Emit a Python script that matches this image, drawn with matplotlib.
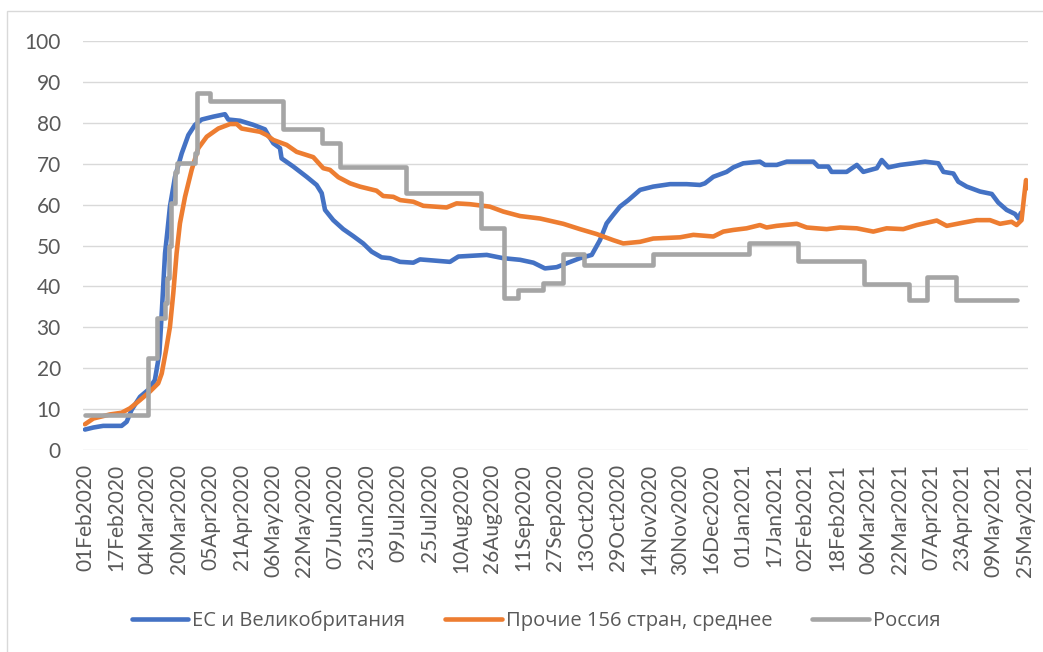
import matplotlib
matplotlib.use("Agg")
import matplotlib.pyplot as plt
from matplotlib.patches import Rectangle

# ---- data (x = day index from 01Feb2020) ----
tick_labels = ["01Feb2020", "17Feb2020", "04Mar2020", "20Mar2020", "05Apr2020", "21Apr2020",
               "06May2020", "22May2020", "07Jun2020", "23Jun2020", "09Jul2020", "25Jul2020",
               "10Aug2020", "26Aug2020", "11Sep2020", "27Sep2020", "13Oct2020", "29Oct2020",
               "14Nov2020", "30Nov2020", "16Dec2020", "01Jan2021", "17Jan2021", "02Feb2021",
               "18Feb2021", "06Mar2021", "22Mar2021", "07Apr2021", "23Apr2021", "09May2021",
               "25May2021"]
tick_step = 16

eu_day = [0, 4.3, 9.3, 18.7, 21.3, 23.8, 28.1, 32.3, 35.7, 38, 39.2, 40.9, 42, 43.4, 46, 49.4,
          52.8, 56.2, 59.6, 65.5, 71.5, 73.2, 79.2, 86, 91.9, 93.6, 96.2, 99.6, 100.4, 106.4,
          113.2, 118.3, 120.9, 122.6, 126.8, 131.9, 137, 142.1, 146.4, 151.5, 155.8, 160.9,
          167.7, 171.1, 186.4, 190.7, 205.2, 213.6, 222.2, 229, 234.9, 240.9, 246.8, 252.8,
          258.8, 263, 266.4, 269.8, 273.2, 277.5, 283.5, 290.2, 298.8, 307.3, 314.1, 316.6,
          320.9, 327.7, 331.1, 336.2, 344.7, 347.3, 353.3, 358.4, 365.2, 372, 374.5, 379.6,
          381.3, 389, 394.2, 397.5, 404.4, 406.9, 410.3, 416.3, 423, 429, 435.8, 438.4, 443.5,
          446, 450.3, 457.1, 463.1, 466.4, 470.7, 475, 476.7, 478]
eu_val = [5.0, 5.5, 5.9, 5.9, 6.9, 9.8, 13, 14.7, 17.1, 23.6, 33.4, 48.1, 53, 59.5, 66.8, 72.5,
          77, 79.5, 80.8, 81.5, 82.1, 80.8, 80.5, 79.5, 78.4, 77, 75, 73.8, 71.3, 69.3,
          66.8, 64.8, 62.8, 58.7, 56.2, 54, 52.3, 50.5, 48.5, 47.1, 46.9, 46,
          45.8, 46.6, 46, 47.3, 47.7, 46.9, 46.5, 45.8, 44.4, 44.7, 45.8, 46.9,
          47.7, 51.3, 55.4, 57.5, 59.5, 61.1, 63.6, 64.4, 65, 65, 64.8, 65.2,
          66.8, 68, 69.1, 70.1, 70.5, 69.7, 69.7, 70.5, 70.5, 70.5, 69.3, 69.3,
          68, 68, 69.7, 68, 68.9, 70.9, 69.1, 69.7, 70.1, 70.5, 70.1, 68, 67.6,
          65.6, 64.4, 63.2, 62.6, 60.5, 58.7, 57.7, 56.6, 58.0]

oth_day = [0, 4.3, 12.8, 18.7, 23, 28.1, 33.2, 37.4, 39.2, 41.4, 43.4, 45.1, 46.8, 48.5, 51.1,
           54.5, 57.9, 62.2, 68.1, 74.1, 77.5, 80, 89.4, 92.8, 96.2, 103, 108.1, 116.6, 121.7,
           125.1, 129.4, 135.4, 140.4, 148.9, 152.3, 157.5, 161, 167.7, 172.8, 184.7, 189.8,
           196.6, 206.8, 213.6, 222.2, 232.4, 244.3, 252.8, 261.3, 269.8, 274.9, 283.5, 290.2,
           303.9, 310.7, 320.9, 326, 331.1, 337.9, 344.7, 348.1, 353.2, 363.5, 368.6, 378.8,
           385.6, 394.2, 402.6, 409.4, 417.9, 424.8, 435, 440.1, 448.6, 455.4, 462.2, 467.3,
           473.2, 475.8, 478.3, 479.6, 480.6, 481.6]
oth_val = [6.3, 7.7, 8.7, 9.1, 10.2, 12.2, 14.3, 16.3, 18.7, 24.4, 30.1, 38.3, 48.1, 55.4, 61.9,
           68.5, 73.8, 76.6, 78.6, 79.7, 79.7, 78.6, 77.8, 77, 75.8, 74.6, 72.9, 71.6, 68.9,
           68.5, 66.7, 65.2, 64.4, 63.4, 62.1, 61.9, 61.1, 60.7, 59.7, 59.3, 60.3,
           60.1, 59.5, 58.3, 57.2, 56.6, 55.3, 54, 52.8, 51.3, 50.5, 50.9, 51.7,
           52, 52.6, 52.2, 53.4, 53.8, 54.2, 55, 54.4, 54.8, 55.3, 54.4, 54,
           54.4, 54.2, 53.4, 54.2, 54, 55, 56.1, 54.8, 55.6, 56.2, 56.2, 55.3,
           55.8, 55, 56.2, 61.9, 66, 64]

ru_day = [0, 32, 37, 41, 42, 43, 44, 46, 47, 56, 57, 64, 101, 121, 130, 164, 202, 214, 221,
          234, 244, 255, 290, 339, 364, 398, 421, 430, 445, 476]
ru_val = [8.5, 22.4, 32.2, 36, 42, 50, 60.3, 68, 70.2, 72.5, 87.4, 85.4, 78.6, 75, 69.3, 62.9,
          54.4, 37.1, 39.1, 40.9, 47.9, 45.2, 47.9, 50.7, 46.2, 40.6, 36.7, 42.4, 36.7, 36.7]

series_names = ["ЕС и Великобритания", "Прочие 156 стран, среднее", "Россия"]
colors = ["#4472C4", "#ED7D31", "#A5A5A5"]

tick_font = "Lato"
text_font = ["Open Sans", "DejaVu Sans"]
label_color = "#595959"

fig = plt.figure(figsize=(10.43, 6.52), dpi=100)
fig.patches.append(Rectangle((7 / 1043, -0.05), 1.2, (652 - 11) / 652 + 0.05,
                             transform=fig.transFigure, fill=False,
                             edgecolor="#D9D9D9", linewidth=1.0))
ax = fig.add_axes([83 / 1043, 202 / 652, 945 / 1043, 409 / 652])

lw = 3.3
ax.plot(eu_day, eu_val, color=colors[0], lw=lw, label=series_names[0], solid_capstyle="round")
ax.plot(oth_day, oth_val, color=colors[1], lw=lw, label=series_names[1], solid_capstyle="round")
ax.plot(ru_day, ru_val, color=colors[2], lw=lw, label=series_names[2], drawstyle="steps-post",
        solid_capstyle="round")

ax.set_ylim(0, 100)
ax.set_xlim(-1, 481.6)
ax.set_yticks(range(0, 101, 10))
ax.set_xticks([i * tick_step for i in range(len(tick_labels))])
ax.set_xticklabels(tick_labels, rotation=90, fontsize=15, family=tick_font, color=label_color)
for t in ax.get_yticklabels():
    t.set_fontsize(15)
    t.set_family(tick_font)
    t.set_color(label_color)
ax.tick_params(axis="both", length=0)
ax.tick_params(axis="y", pad=16)
ax.tick_params(axis="x", pad=10)
ax.grid(axis="y", color="#D9D9D9", lw=1.0)
ax.set_axisbelow(True)
for s in ax.spines.values():
    s.set_visible(False)

leg = fig.legend(loc="center", bbox_to_anchor=(536 / 1043, 31 / 652), ncol=3, frameon=False,
                 prop={"family": text_font, "size": 14.5}, handlelength=2.8,
                 handletextpad=0.2, columnspacing=2.0)
for t in leg.get_texts():
    t.set_color(label_color)

fig.savefig("out.png", dpi=100)
